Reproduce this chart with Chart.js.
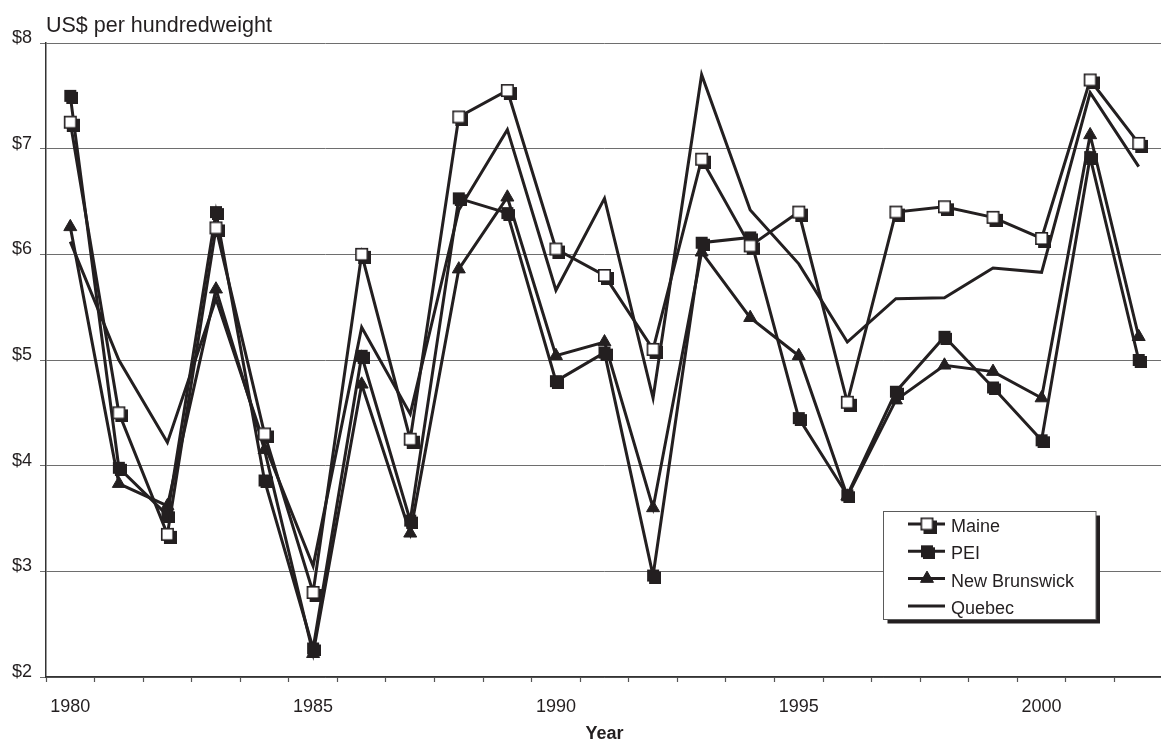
<!DOCTYPE html>
<html>
<head>
<meta charset="utf-8">
<script src="https://cdn.jsdelivr.net/npm/chart.js@4"></script>
<style>
html,body{margin:0;padding:0;overflow:hidden;background:#fff;width:1161px;height:743px}
#wrap{position:absolute;left:0;top:0;width:1173px;height:743px}
</style>
</head>
<body>
<div id="wrap"><canvas id="c" width="1173" height="743"></canvas></div>
<script>
// ---- data ----
const years  = [1980,1981,1982,1983,1984,1985,1986,1987,1988,1989,1990,1991,1992,1993,1994,1995,1996,1997,1998,1999,2000,2001,2002];
const maine  = [7.25,4.50,3.35,6.25,4.30,2.80,6.00,4.25,7.30,7.55,6.05,5.80,5.10,6.90,6.08,6.40,4.60,6.40,6.45,6.35,6.15,7.65,7.05];
const pei    = [7.50,3.98,3.53,6.40,3.86,2.27,5.04,3.48,6.53,6.39,4.80,5.07,2.96,6.11,6.16,4.45,3.72,4.70,5.22,4.74,4.24,6.92,5.00];
const newBrunswick = [6.26,3.83,3.62,5.67,4.15,2.22,4.77,3.36,5.86,6.54,5.04,5.17,3.60,6.02,5.40,5.04,3.71,4.62,4.95,4.89,4.64,7.13,5.22];
const quebec = [6.12,5.00,4.22,5.58,4.20,3.05,5.31,4.49,6.42,7.18,5.66,6.53,4.64,7.70,6.42,5.91,5.17,5.58,5.59,5.87,5.83,7.53,6.83];
const seriesNames = ['Maine','PEI','New Brunswick','Quebec'];
const yTicks = [2,3,4,5,6,7,8];
const labelEvery = 5;

const INK = '#231f20';
Chart.defaults.font.family = "'Liberation Sans', Arial, Helvetica, sans-serif";
Chart.defaults.color = INK;

function squareMark(size, off, fill, border) {
  const c = document.createElement('canvas');
  const n = size + 2 * off;
  c.width = n; c.height = n;
  const g = c.getContext('2d');
  g.fillStyle = INK;
  g.fillRect(2 * off, 2 * off, size, size);   // drop shadow
  g.fillRect(off, off, size, size);
  if (fill) {
    g.fillStyle = fill;
    g.fillRect(off + border, off + border, size - 2 * border, size - 2 * border);
  }
  return c;
}
const maineMark = squareMark(13, 3, '#ffffff', 1.6);
const peiMark = squareMark(12, 2, null, 0);

function drawMark(ctx, ds, x, y) {
  const st = ds.pointStyle;
  if (!ds.pointRadius) return;
  if (st instanceof HTMLCanvasElement) {
    ctx.drawImage(st, x - st.width / 2, y - st.height / 2);
  } else if (st === 'triangle') {
    const r = ds.pointRadius;
    ctx.beginPath();
    let a = 0;
    ctx.moveTo(x + Math.sin(a) * r, y - Math.cos(a) * r);
    a += 2 * Math.PI / 3;
    ctx.lineTo(x + Math.sin(a) * r, y - Math.cos(a) * r);
    a += 2 * Math.PI / 3;
    ctx.lineTo(x + Math.sin(a) * r, y - Math.cos(a) * r);
    ctx.closePath();
    ctx.fillStyle = ds.pointBackgroundColor;
    ctx.fill();
    ctx.lineWidth = ds.pointBorderWidth;
    ctx.strokeStyle = ds.pointBorderColor;
    ctx.stroke();
  }
}

const boxLegend = {
  id: 'boxLegend',
  afterDraw(chart) {
    const ctx = chart.ctx;
    const x0 = 883.5, y0 = 511.5, w = 212.5, h = 108;
    ctx.save();
    ctx.fillStyle = INK;
    ctx.fillRect(x0 + 4, y0 + 4, w, h);
    ctx.fillStyle = '#ffffff';
    ctx.fillRect(x0, y0, w, h);
    ctx.strokeStyle = '#5a5a5a';
    ctx.lineWidth = 1;
    ctx.strokeRect(x0, y0, w, h);
    chart.data.datasets.forEach((ds, i) => {
      const cy = 524 + i * 27.3;
      ctx.strokeStyle = ds.borderColor;
      ctx.lineWidth = 3;
      ctx.beginPath();
      ctx.moveTo(908, cy);
      ctx.lineTo(945, cy);
      ctx.stroke();
      drawMark(ctx, ds, 927, cy);
      ctx.fillStyle = INK;
      ctx.font = "18px 'Liberation Sans', Arial, sans-serif";
      ctx.textAlign = 'left';
      ctx.textBaseline = 'middle';
      ctx.fillText(ds.label, 951, cy + 3);
    });
    ctx.restore();
  }
};

const common = { borderColor: INK, borderWidth: 3, tension: 0, fill: false };
new Chart(document.getElementById('c'), {
  type: 'line',
  data: {
    labels: years.map(String),
    datasets: [
      Object.assign({ label: seriesNames[0], data: maine, pointStyle: maineMark, pointRadius: 7 }, common),
      Object.assign({ label: seriesNames[1], data: pei, pointStyle: peiMark, pointRadius: 7 }, common),
      Object.assign({ label: seriesNames[2], data: newBrunswick, pointStyle: 'triangle', pointRadius: 7.5,
        pointBackgroundColor: INK, pointBorderColor: INK, pointBorderWidth: 1 }, common),
      Object.assign({ label: seriesNames[3], data: quebec, pointRadius: 0 }, common)
    ]
  },
  options: {
    responsive: false,
    animation: false,
    events: [],
    layout: { padding: { left: 12, right: 0, top: 0, bottom: 0 } },
    plugins: {
      legend: { display: false },
      tooltip: { enabled: false },
      title: {
        display: true, text: 'US$ per hundredweight', align: 'start', fullSize: false,
        color: INK, font: { size: 21.5, weight: 'normal', lineHeight: 1 },
        padding: { top: 15.5, bottom: 6 }
      }
    },
    scales: {
      x: {
        type: 'category',
        offset: true,
        grid: { offset: true, drawOnChartArea: false, drawTicks: true, tickLength: 5, tickColor: '#555', tickWidth: 1.2 },
        border: { display: true, color: '#333', width: 1.5 },
        ticks: {
          autoSkip: false, maxRotation: 0, minRotation: 0, padding: 14, color: INK, font: { size: 18 },
          callback: function (v, i) { const y = years[i]; return y % labelEvery === 0 ? String(y) : ''; }
        },
        title: { display: true, text: 'Year', color: INK, font: { size: 18, weight: 'bold', lineHeight: 1 }, padding: { top: 0, bottom: 0 } },
        afterFit(s) { s.height = 66; }
      },
      y: {
        min: yTicks[0], max: yTicks[yTicks.length - 1],
        afterBuildTicks(s) { s.ticks = yTicks.map(v => ({ value: v })); },
        ticks: { padding: 8, color: INK, font: { size: 18 }, labelOffset: -5, callback: v => '$' + v },
        grid: { color: '#6e6e6e', lineWidth: 1, tickLength: 6, tickColor: '#6e6e6e' },
        border: { color: '#333', width: 1.5 },
        afterFit(s) { s.width = 34; }
      }
    }
  },
  plugins: [boxLegend]
});
</script>
</body>
</html>
